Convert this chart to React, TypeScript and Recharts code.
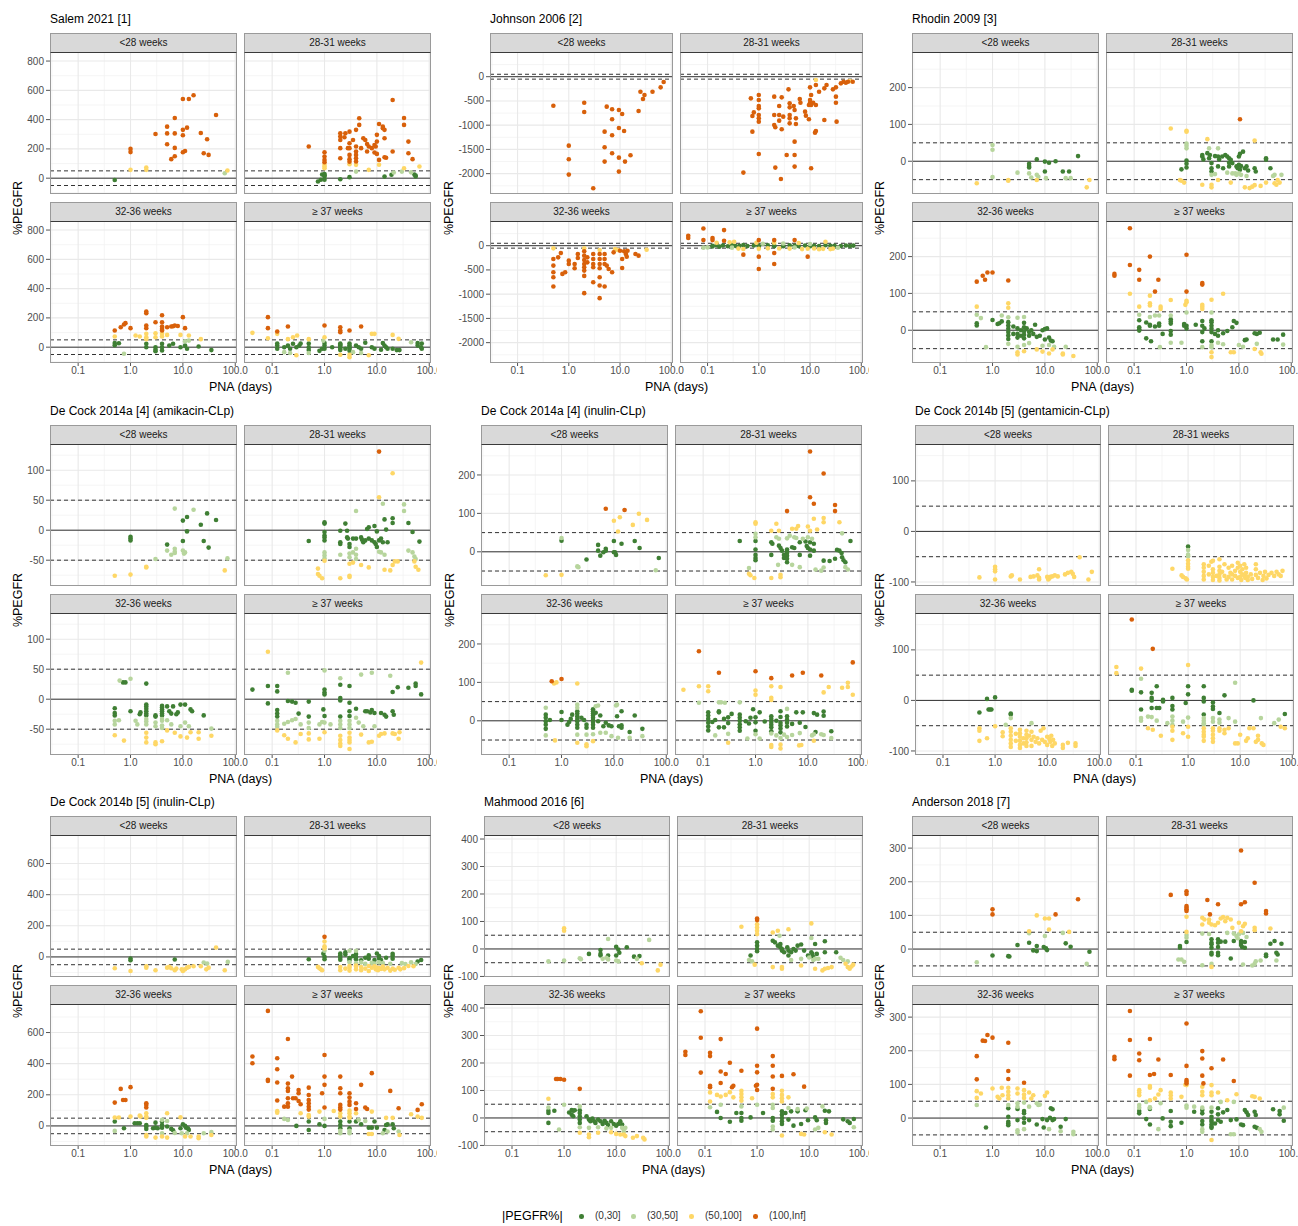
import React from "react";
import { ScatterChart, Scatter, XAxis, YAxis, CartesianGrid, ReferenceLine } from "recharts";

type Pt = [number, number];

const FONT = '"Liberation Sans", Arial, Helvetica, sans-serif';

const FACET_LABELS = ["<28 weeks", "28-31 weeks", "32-36 weeks", "\u2265 37 weeks"];
const X_TICKS = [0.1, 1, 10, 100];
const X_MINOR = [0.0316, 0.316, 3.16, 31.6];
const X_DOMAIN: [number, number] = [0.029, 108];
const CLASS_LABELS = ["(0,30]", "(30,50]", "(50,100]", "(100,Inf]"];
const CLASS_COLORS = ["#3f7f34", "#b7d59d", "#fed766", "#d8600a"];

// ---- Salem 2021 [1]
const salemLt28: Pt[] = [[0.5,-12],[1,200],[1,178],[1,57],[2,73],[2,57],[3,302],[5,352],[5,306],[5,232],[6,130],[7,411],[7,306],[7,207],[7,150],[10,541],[10,293],[10,330],[10,177],[11,186],[12,345],[13,541],[16,566],[22,309],[25,170],[29,266],[31,159],[43,432],[63,34],[71,53]];
const salem28to31: Pt[] = [[0.5,216],[0.75,-23],[0.85,-11],[0.9,25],[1,28],[1,20],[1,10],[1,-11],[1,91],[1,80],[1,68],[1,177],[1,148],[1,125],[1,109],[2,-7],[2,307],[2,284],[2,261],[2,205],[2,136],[2.4,280],[2.5,307],[2.8,205],[3,318],[3,239],[3,205],[3,159],[3,130],[3,112],[3,7],[3,95],[3.5,261],[4,330],[4,216],[4,182],[4,159],[4,136],[4,114],[4,91],[4,45],[4.6,409],[4.6,364],[5,205],[5.5,273],[6,261],[6.5,234],[6.5,182],[7,216],[7,57],[8,205],[9,227],[9.5,216],[10,250],[9,175],[10,166],[10,296],[11,370],[11,92],[11,125],[13,352],[13,341],[14,330],[14,273],[14,143],[15,140],[14,11],[20,534],[20,182],[19,23],[21,39],[33,411],[33,364],[40,250],[40,170],[48,130],[33,68],[30,45],[52,25],[55,18],[55,12],[65,80],[45,40]];
const salem32to36: Pt[] = [[0.5,114],[0.5,73],[0.5,28],[0.5,14],[0.6,27],[0.75,-45],[0.65,136],[0.75,155],[0.8,164],[1,130],[1.25,80],[1.5,73],[2,91],[2,68],[2,55],[2,243],[2,232],[2,148],[2,130],[2,23],[2,0],[3,170],[3,95],[3,68],[3,0],[3,-18],[3,-27],[4,218],[4,170],[4,141],[4,125],[4,114],[4,91],[4,73],[4,23],[4,0],[4,-23],[5,136],[6,141],[6.5,143],[7,148],[8,145],[5,84],[5.5,11],[6.5,23],[10,205],[11,130],[9,84],[9,0],[11,11],[12,-11],[11,41],[13,45],[13,80],[22,55],[20,5],[35,-20]];
const salemGe37: Pt[] = [[0.042,98],[0.083,205],[0.083,130],[0.083,61],[0.125,107],[0.125,25],[0.125,11],[0.125,-11],[0.125,91],[0.2,141],[0.17,0],[0.2,11],[0.22,-11],[0.25,23],[0.29,0],[0.33,11],[0.35,25],[0.17,-34],[0.22,-40],[0.2,55],[0.25,68],[0.3,80],[0.29,-55],[0.5,0],[0.5,25],[0.5,-20],[0.5,55],[0.5,-40],[0.8,-25],[0.9,-11],[1,28],[1,11],[1,-11],[1,148],[1,68],[0.95,45],[1.4,0],[2,136],[2,114],[2,102],[2,25],[2,18],[2,11],[2,0],[2,-11],[2,-20],[2,-52],[2.5,-11],[3,114],[3,25],[3,11],[3,0],[3,-11],[3,-25],[3,-68],[3,-52],[3.5,-34],[4,11],[4.5,0],[5,-11],[5,141],[6,30],[5,-40],[7,-55],[8,0],[9,-11],[12,-18],[8,91],[9,91],[13,28],[14,11],[15,0],[16,-11],[20,84],[26,57],[20,-11],[24,-20],[27,-20],[45,34],[60,28],[60,11],[70,0],[72,25],[72,-11]];

// ---- Johnson 2006 [2]
const johnsonLt28: Pt[] = [[0.5,-598],[1,-1422],[1,-1704],[1,-2020],[2,-536],[2,-728],[3,-2301],[5,-1134],[5,-1456],[5,-1752],[5.5,-618],[7,-673],[7,-879],[7,-1209],[7,-1580],[9.5,-687],[11,-769],[9.5,-1058],[12,-1120],[9.5,-1670],[9.5,-1958],[12.5,-1752],[16,-1621],[23,-708],[25,-309],[28,-460],[30,-378],[43,-309],[62,-220],[71,-110]];
const johnson28to31: Pt[] = [[0.5,-1979],[0.7,-447],[0.75,-811],[0.8,-736],[0.75,-1134],[1,-378],[1,-481],[1,-605],[1,-653],[1,-790],[1,-859],[1,-927],[1,-1594],[2,-412],[2,-790],[2,-996],[2.1,-1044],[2.1,-1875],[2.5,-605],[2.5,-790],[2.5,-907],[2.8,-1085],[2.7,-2109],[2.8,-426],[3,-824],[3.8,-261],[4,-550],[4,-632],[4,-790],[4,-859],[4,-962],[3.5,-1614],[4.8,-605],[5,-687],[5,-1340],[5,-1614],[5,-1855],[5.3,-859],[5.3,-975],[6.3,-460],[6.5,-536],[8,-721],[9.5,-584],[10,-536],[10,-481],[8.3,-804],[9.5,-879],[10,-220],[10.5,-378],[10.5,-584],[10.5,-1889],[11.5,-536],[13,-584],[12.5,-1154],[13,-1120],[13,-172],[15,-309],[19,-240],[21,-172],[19,-893],[28,-261],[32,-220],[32,-412],[32,-536],[33,-927],[40,-137],[45,-103],[50,-124],[55,-103],[60,-89],[68,-103],[13,-69]];
const johnson32to36: Pt[] = [[0.5,-55],[0.5,-274],[0.5,-411],[0.5,-548],[0.5,-651],[0.5,-843],[0.62,-240],[0.7,-151],[0.75,-582],[0.85,-548],[1,-308],[1,-377],[1.3,-377],[1.3,-466],[1.5,-171],[1.5,-253],[2,-55],[2,-116],[2,-205],[2,-295],[2,-377],[2,-445],[2,-514],[2,-623],[2,-979],[2.3,-240],[2.3,-343],[3,-171],[3,-274],[3,-377],[3,-445],[3,-753],[4,-89],[4,-171],[4,-274],[4,-377],[4,-466],[4,-651],[4,-822],[4,-1082],[5,-171],[5,-274],[5,-377],[5,-843],[5.5,-411],[6,-480],[7,-548],[7.5,-137],[9,-89],[8,-68],[11,-274],[11,-459],[12,-116],[13,-171],[13.5,-226],[14,-103],[20,-171],[23,-205],[33,-82],[10,-103]];
const johnsonGe37: Pt[] = [[0.042,205],[0.042,158],[0.083,356],[0.083,116],[0.083,-40],[0.125,158],[0.125,116],[0.21,322],[0.21,103],[0.125,0],[0.125,-15],[0.15,10],[0.17,-20],[0.2,5],[0.25,-10],[0.3,15],[0.35,-5],[0.42,0],[0.5,12],[0.6,-8],[0.8,5],[1,0],[1,-15],[1.5,8],[2,-10],[2,5],[3,0],[3,-12],[4,10],[5,0],[6,-8],[8,4],[10,-10],[12,0],[15,-5],[20,8],[25,-3],[30,0],[40,-6],[50,3],[60,-5],[70,2],[0.15,62],[0.27,70],[0.33,80],[0.4,-60],[0.5,-68],[0.9,60],[1,-65],[1.5,-55],[2,62],[2.5,-58],[4,-60],[6,55],[7,-70],[9,-62],[12,-58],[15,-72],[18,-65],[20,80],[25,-70],[28,-60],[0.5,-185],[1,116],[1,-226],[1,-480],[2,116],[2,-151],[2,-377],[5,116],[9,-226],[0.1,-35],[0.3,-40],[1.2,40],[3,45],[5,-38],[10,35],[35,-42]];

// ---- Rhodin 2009 [3]
const rhodinLt28: Pt[] = [[0.5,-60],[1,44],[1,31],[1,-43],[2,-51],[2,-53],[3,-31],[5,-7],[5,-13],[5,-17],[5,-33],[5.5,-44],[7,5],[7,-37],[7.5,-42],[7,-51],[10,-1],[10,-28],[10.5,-46],[12,-4],[16,0],[22,-28],[29,-28],[25,-46],[31,-46],[43,14],[63,-71],[71,-51]];
const rhodin28to31: Pt[] = [[0.5,89],[1,83],[1,80],[1,48],[1,42],[1,35],[1,2],[1,-7],[1,-17],[0.8,-22],[0.75,-51],[0.8,-53],[0.9,-58],[2.5,60],[2,17],[2,13],[2.1,5],[2.5,22],[2.7,8],[2.8,17],[3,-5],[3,-19],[3,-28],[2.7,35],[3,-37],[3.5,-35],[2,-64],[3,-64],[3,-71],[3.5,14],[4,13],[4.2,5],[4.8,13],[5.5,17],[6,13],[6.5,8],[6.5,-4],[7,4],[7.5,-5],[4,35],[4,-51],[7,-58],[4,-14],[5,-19],[6.5,-14],[6,-31],[7.5,-33],[8.5,-33],[9,-37],[9,-14],[9.5,-19],[10,-10],[10.5,-23],[11,-13],[12,26],[13,-19],[14,-14],[15,-25],[20,-19],[21,-28],[10,13],[10.5,20],[10.5,114],[10,-33],[11,-37],[14,-40],[13,-71],[16,-73],[18,-69],[20,-65],[26,-67],[20,56],[33,8],[33,4],[40,-19],[45,-40],[48,-37],[65,-37],[33,-58],[48,-60],[52,-64],[55,-51],[60,-58]];
const rhodin32to36: Pt[] = [[0.5,132],[0.65,148],[0.72,137],[0.8,157],[1,157],[2,135],[0.5,64],[0.5,42],[0.5,19],[0.5,13],[0.6,33],[0.75,-46],[1,28],[1.25,17],[1.35,19],[1.5,24],[1.5,40],[2,61],[2,73],[2,35],[2,-37],[2,22],[2,13],[2,4],[2,-5],[2,-14],[2,-24],[2.5,10],[2.5,-10],[3,5],[3,-10],[3,-20],[3.5,0],[3.5,-15],[4,20],[4,8],[4,-3],[4,-12],[4,-22],[4.5,5],[5,-5],[5,-15],[5.5,0],[6,-10],[6.5,15],[7,-18],[8,-15],[9,0],[10,3],[11,5],[12,-20],[13,-28],[14,-30],[10,-25],[3,34],[4,36],[4,-40],[5,-35],[3,-45],[9,-42],[12,-40],[15,-45],[25,-45],[3,-60],[3,-66],[4,-57],[7,-52],[9,-58],[12,-63],[14,-52],[22,-63],[22,-66],[35,-70]];
const rhodinGe37: Pt[] = [[0.042,153],[0.042,148],[0.083,277],[0.083,177],[0.125,164],[0.125,137],[0.2,200],[0.25,105],[0.29,137],[1,205],[1,105],[2,128],[2,124],[0.083,99],[0.125,64],[0.2,94],[0.2,73],[0.2,67],[0.32,64],[0.32,58],[0.5,82],[0.95,69],[1,80],[1,76],[2,69],[2,64],[2,58],[3,83],[5,99],[3,-60],[3,-73],[7,-60],[8,-60],[20,-51],[26,-60],[27,-64],[0.125,42],[0.2,36],[0.25,40],[0.3,40],[0.5,40],[0.5,-34],[0.8,-34],[1,48],[2,-46],[3,-40],[3,-46],[3,48],[4,-34],[5,-38],[10,-40],[12,-45],[22,-37],[70,-39],[0.21,-30],[0.31,-46],[0.125,27],[0.125,8],[0.125,3],[0.125,-1],[0.17,21],[0.2,15],[0.2,12],[0.25,10],[0.3,18],[0.3,12],[0.35,-10],[0.5,30],[0.5,24],[0.5,18],[0.5,-2],[0.5,-12],[0.17,-22],[0.9,17],[0.9,12],[1,12],[1,5],[1.5,15],[2,25],[2,12],[2,-5],[2,-30],[2.2,5],[3,27],[3,22],[3,12],[3,4],[3,-5],[3,-30],[3.5,-10],[4,-15],[4,0],[5,-8],[6,-2],[7.5,8],[8,25],[9,20],[13,-27],[14,-25],[20,-8],[22,-10],[25,-7],[45,-25],[55,-25],[70,-12]];

// ---- De Cock 2014a [4] (amikacin-CLp)
const amikLt28: Pt[] = [[0.5,-76],[1,-74],[1,-11],[1,-14],[1,-17],[2,-62],[2,-61],[3,-48],[5,-24],[5,-34],[6,-41],[7,-31],[7,-36],[7,-38],[7,36],[10,16],[10,-18],[10,-34],[10.5,-39],[11,-37],[12,22],[12,-2],[16,34],[22,9],[25,-18],[29,28],[31,-29],[43,17],[63,-67],[71,-47]];
const amik28to31: Pt[] = [[11,131],[20,95],[11,55],[13,44],[33,43],[33,32],[4,32],[0.5,-18],[1,13],[1,11],[1,-3],[1,-9],[1,-12],[1,-17],[1,-37],[1,-42],[1,-47],[1,-51],[0.75,-64],[0.75,-73],[0.8,-76],[0.9,-80],[2,-1],[2,-20],[2,-23],[2.5,11],[2.7,-1],[2.7,-12],[2.8,-14],[3,-28],[3,-23],[2,-41],[3,-39],[3,-45],[3.5,-37],[4,-31],[4,-41],[4,-48],[2,-80],[3,-56],[3,-76],[3,-78],[3.5,-54],[5,-58],[7,-62],[3.5,-14],[4,-14],[5,-12],[5.2,-16],[5.5,-20],[6,-17],[6.5,2],[7,5],[7,-14],[8,-17],[9,-20],[9.5,-23],[10,-28],[9,7],[10,-2],[11,-17],[12,-14],[13,-20],[14,18],[15,1],[16,-20],[11,-36],[12,-37],[14,-41],[14,-66],[20,-58],[18,-67],[22,-52],[25,-52],[20,20],[20,12],[40,12],[48,-3],[65,-19],[40,-34],[48,-37],[52,-44],[55,-48],[52,-52],[55,-61],[62,-66]];
const amik32to36: Pt[] = [[0.62,31],[0.72,28],[0.8,28],[1,34],[2,26],[0.5,-15],[0.5,-23],[0.5,-27],[0.5,-36],[0.5,-42],[0.5,-60],[0.6,-35],[0.75,-69],[1,-20],[1.25,-36],[1.35,-42],[1.5,-25],[1.55,-22],[2,-9],[2,-12],[2,-16],[2,-20],[2,-24],[2,-27],[2,-33],[2,-37],[2,-42],[2,-56],[2,-64],[2,-72],[3,-27],[3,-29],[3,-39],[3,-45],[3,-72],[3,-75],[4,-11],[4,-14],[4,-17],[4,-20],[4,-24],[4,-27],[4,-33],[4,-36],[4,-44],[4,-48],[4,-70],[5,-12],[5.5,-20],[6,-24],[6.5,-12],[5,-35],[6,-42],[5,-52],[7,-56],[7.5,-25],[8,-22],[9,-45],[9,-62],[9,-9],[11,-9],[11,-39],[13,-45],[12,-64],[14,-55],[14,-17],[15,-20],[25,-27],[20,-55],[20,-66],[35,-61],[35,-49]];
const amikGe37: Pt[] = [[0.083,79],[0.042,16],[0.083,22],[0.083,-7],[0.2,44],[0.125,22],[0.125,13],[0.125,-18],[0.125,-24],[0.125,-29],[0.125,-36],[0.125,-42],[0.125,-46],[0.125,-52],[0.17,-41],[0.2,-38],[0.24,-35],[0.28,-33],[0.2,-3],[0.24,-4],[0.28,-6],[0.32,-24],[0.5,-4],[0.17,-60],[0.2,-66],[0.28,-72],[0.35,-58],[0.5,-57],[0.5,-67],[0.8,-66],[0.35,-42],[0.5,-39],[0.5,-48],[0.5,-29],[0.8,-42],[0.9,-38],[0.95,-17],[1,-28],[1,16],[1,11],[1,8],[1,48],[1,-55],[1,-39],[1.3,-42],[2,24],[2,2],[2,-2],[2,-29],[2,35],[2,-36],[2,-42],[2,-48],[2,-61],[2,-68],[2,-74],[2,-78],[3,22],[3,-6],[3,-20],[3,-28],[3,-36],[3,-42],[3,-48],[3,-56],[3,-64],[3,-68],[3,-72],[3,-83],[4,-31],[4.5,-39],[5,41],[5.5,-45],[4,-16],[6,-20],[6.5,-20],[7.5,-22],[8,-18],[9,-23],[8,44],[5,-59],[7,-72],[8,-71],[9,-45],[11,-61],[12,-58],[14,-57],[12,-23],[14,-26],[15,-29],[18,39],[20,12],[20,-20],[21,-26],[25,20],[20,-57],[22,-58],[26,-66],[27,-55],[40,19],[55,26],[55,22],[70,8],[70,61]];

// ---- De Cock 2014a [4] (inulin-CLp)
const inulALt28: Pt[] = [[0.5,-61],[1,-60],[1,36],[1,29],[2,-38],[2.1,-40],[3,-20],[5,18],[5,3],[5.5,-10],[6.3,-1],[7,8],[7,3],[7,112],[10,28],[10,-1],[11,-8],[10.5,-1],[10,81],[13,90],[12,53],[16,109],[14,21],[23,70],[30,99],[25,28],[31,10],[43,83],[63,-48],[72,-16]];
const inulA28to31: Pt[] = [[0.5,28],[1,77],[1,73],[1,47],[1,38],[1,28],[1,6],[1,-8],[1,-16],[1,-22],[0.75,-42],[0.75,-57],[0.8,-61],[0.95,-68],[2,55],[2,-68],[2,25],[2.1,21],[2,-8],[2.5,38],[2.8,34],[2.7,-34],[2.5,73],[2.8,55],[3,-60],[3,-66],[2.8,16],[3,10],[3.2,3],[3.5,-8],[3.5,-16],[4,6],[4,1],[4,-3],[4,-10],[4,-18],[4,-27],[4,106],[4,35],[4.5,42],[5,60],[6.5,67],[6,60],[5,-34],[5.5,38],[6,36],[7,-40],[5,12],[5.5,10],[7,-8],[7,25],[8,34],[9,27],[9.5,15],[10,10],[11,25],[11,6],[11,-10],[13,21],[13,3],[11,261],[11,142],[13,125],[10,66],[11,55],[10,38],[12,34],[13,86],[15,58],[14,-46],[18,-49],[20,-41],[20,-23],[26,-24],[20,204],[20,88],[20,77],[33,122],[33,106],[40,77],[33,-18],[36,5],[40,3],[44,-3],[45,-14],[48,-22],[52,-27],[45,48],[52,-40],[58,-46],[65,28]];
const inulA32to36: Pt[] = [[0.65,103],[0.8,100],[1,109],[0.72,97],[2,97],[0.5,16],[0.5,8],[0.5,-1],[0.5,-10],[0.5,-21],[0.5,34],[0.5,-38],[0.6,2],[0.75,-51],[1,23],[1,2],[1.3,-10],[1.4,-3],[1.5,5],[1.6,16],[2,42],[2,34],[2,-36],[2,-57],[2,25],[2,19],[2,12],[2,5],[2,-1],[2,-10],[2,-18],[2.4,8],[2.7,2],[3,-10],[3,-18],[3,-36],[3,-61],[3,-66],[4,30],[4,25],[4,19],[4,14],[4,8],[4,2],[4,-3],[4,-10],[4,-18],[4,-35],[4.5,38],[5,40],[5.5,-31],[4,-53],[4.5,21],[5,-1],[5.5,14],[6.3,-14],[7,-5],[8,-12],[7,-31],[9,-40],[11,40],[12,-44],[11.5,42],[9,-14],[11.5,12],[12.5,-14],[14,25],[14,-12],[14,-18],[20,-29],[25,14],[35,-21],[20,-44],[35,-40]];
const inulAGe37: Pt[] = [[0.083,181],[0.042,81],[0.083,90],[0.125,90],[0.125,77],[0.083,47],[0.2,125],[1,129],[2,111],[5,118],[8,125],[18,118],[72,152],[1,79],[1,68],[2,90],[2,60],[2,54],[3,88],[20,74],[25,88],[45,86],[58,99],[58,88],[72,68],[0.2,48],[0.22,48],[0.26,47],[0.5,48],[4,31],[0.125,22],[0.125,14],[0.125,5],[0.125,-5],[0.125,-15],[0.125,-25],[0.15,-3],[0.17,2],[0.2,25],[0.2,22],[0.2,-17],[0.25,5],[0.25,-17],[0.3,9],[0.3,-6],[0.35,18],[0.5,16],[0.5,8],[0.5,0],[0.5,-9],[0.5,-17],[0.5,-26],[0.65,-1],[0.75,-7],[0.8,8],[0.9,30],[1,9],[1,-4],[1,-26],[1.2,22],[1.5,-2],[2,12],[2,5],[2,-3],[2,-10],[2,-17],[2,-27],[2.5,0],[3,25],[3,10],[3,-5],[3,-12],[3,-20],[3,-30],[4,12],[4,3],[4,-5],[4,-15],[5,-8],[6,22],[7,-5],[8,22],[9,-16],[13,20],[14,-29],[15,16],[20,24],[20,13],[28,-27],[0.17,-38],[0.3,-34],[0.7,-46],[1,-35],[1.2,-46],[2,-33],[2.5,-38],[3,-45],[3.5,-36],[4,-42],[5,-37],[7,-32],[12,-38],[13,-35],[18,-35],[20,-37],[28,-45],[0.3,-57],[2,-63],[2,-68],[3,-62],[3,-72],[6.8,-64],[7.5,-63],[13,-52]];

// ---- De Cock 2014b [5] (gentamicin-CLp)
const gentLt28: Pt[] = [[0.5,-91],[1,-70],[1,-75],[1,-79],[1,-95],[2,-89],[2.1,-87],[3,-95],[4.8,-90],[5.5,-89],[6.5,-87],[7,-75],[7,-92],[7,-95],[10,-90],[10.5,-95],[11,-93],[11.5,-90],[12.5,-89],[14,-87],[16,-89],[22,-85],[25,-82],[29,-80],[31,-84],[33,-90],[42,-51],[62,-95],[72,-80]];
const gent28to31: Pt[] = [[1,-30],[1,-37],[1,-46],[1,-49],[1,-57],[1,-64],[1,-70],[1,-74],[0.5,-74],[0.75,-87],[0.8,-90],[0.9,-93],[0.95,-95],[2,-65],[2,-72],[2,-80],[2,-88],[2,-95],[2.5,-68],[2.5,-85],[2.8,-60],[3,-58],[3,-75],[3,-82],[3,-90],[3,-96],[3.5,-88],[4,-55],[4,-70],[4,-78],[4,-85],[4,-92],[4,-97],[4.5,-80],[5,-65],[5,-88],[5.5,-95],[6,-72],[6,-90],[6.5,-82],[7,-68],[7,-85],[7,-95],[8,-78],[8,-88],[9,-62],[9,-72],[9,-92],[10,-68],[10,-80],[10,-90],[10.5,-96],[11,-75],[11,-85],[12,-65],[12,-88],[12.5,-92],[13,-72],[13,-82],[14,-90],[14,-96],[16,-85],[17,-94],[20,-65],[20,-75],[20,-86],[22,-92],[24,-82],[27,-96],[28,-88],[30,-80],[32,-93],[35,-86],[40,-82],[45,-88],[50,-80],[55,-85],[60,-88],[65,-78]];
const gent32to36: Pt[] = [[0.5,-24],[0.7,3],[1,6],[0.75,-18],[0.8,-18],[0.85,-18],[2,-26],[2,-28],[2,-35],[1.6,-48],[0.5,-55],[0.5,-60],[0.5,-80],[0.7,-75],[1,-51],[1.4,-63],[1.4,-71],[5,-45],[2,-55],[2,-62],[2,-70],[2,-78],[2,-85],[2,-92],[2.5,-66],[2.5,-80],[3,-58],[3,-65],[3,-72],[3,-80],[3,-88],[3,-94],[3.5,-75],[3.5,-85],[4,-60],[4,-68],[4,-75],[4,-83],[4,-90],[4.5,-70],[5,-62],[5,-78],[5,-90],[5.5,-72],[6,-82],[6.5,-75],[7,-85],[7.5,-60],[8,-78],[8.5,-55],[9,-82],[10,-72],[10,-88],[11,-76],[11.5,-82],[12,-70],[12.5,-90],[13,-78],[14,-85],[20,-94],[20,-88],[25,-84],[35,-85],[35,-90]];
const gentGe37: Pt[] = [[0.083,160],[0.21,102],[0.042,66],[0.042,54],[0.125,63],[1,70],[0.125,43],[8,35],[0.083,21],[0.083,19],[0.125,16],[0.25,28],[0.2,15],[0.2,5],[0.2,0],[0.125,-18],[0.2,-15],[0.25,-15],[0.28,-15],[0.33,1],[0.33,-2],[0.5,5],[0.5,-11],[0.5,-18],[0.9,-5],[1,28],[1,12],[2,28],[2,5],[2,-2],[2,-28],[3,-4],[3,-12],[3,-17],[4,-25],[5,10],[18,0],[72,-27],[0.125,-35],[0.125,-40],[0.17,-32],[0.2,-33],[0.25,-40],[0.4,-45],[0.5,-32],[0.5,-40],[0.5,-48],[0.8,-42],[1,-34],[2,-35],[2,-40],[2,-45],[2,-48],[3,-35],[3,-42],[4,-38],[4,-44],[6,-35],[8,-42],[25,-35],[45,-45],[55,-38],[0.17,-55],[0.21,-58],[0.3,-70],[0.5,-52],[0.5,-60],[0.5,-78],[0.8,-65],[1,-52],[1,-72],[2,-55],[2,-62],[2,-68],[2,-72],[2,-80],[3,-55],[3,-60],[3,-68],[3,-75],[3,-82],[4,-55],[4,-60],[5,-58],[5,-65],[6,-55],[8,-85],[9,-85],[10,-68],[13,-80],[14,-75],[15,-55],[18,-55],[20,-82],[22,-70],[22,-78],[26,-85],[28,-88],[60,-52],[72,-55]];

// ---- De Cock 2014b [5] (inulin-CLp)
const inulBLt28: Pt[] = [[0.5,-73],[1,-90],[1,-10],[1,-21],[2,-69],[2,-60],[3,-86],[5,-69],[5.5,-64],[6,-73],[7,-17],[7,-86],[7.5,-75],[9.5,-80],[10,-90],[11,-80],[12,-69],[13,-64],[16,-60],[22,-60],[28,-80],[31,-69],[25,-36],[29,-43],[43,60],[63,-86],[72,-32]];
const inulB28to31: Pt[] = [[1,129],[1,99],[1,68],[1,55],[1,40],[1,0],[1,-15],[0.95,21],[0.5,-15],[0.75,-64],[0.8,-73],[0.85,-79],[0.9,-86],[2,22],[2,10],[2,-5],[2,-18],[2.5,15],[3,-8],[3,-20],[3.5,5],[4,18],[4,0],[4,-15],[5,-22],[6,-5],[7,10],[7,-12],[9,-20],[10,22],[11,5],[11,-10],[12,-20],[15,-5],[20,20],[20,8],[20,-12],[70,-20],[2.5,30],[3,-35],[3,40],[4,40],[4,-40],[5,-35],[6,-44],[8,-38],[9,-42],[11,-35],[13,-40],[18,-44],[30,-40],[35,-45],[45,-35],[55,-45],[60,-30],[2,-65],[2,-85],[2.5,-75],[3,-58],[3,-70],[3,-88],[4,-55],[4,-62],[4,-80],[5,-65],[5,-85],[6,-75],[7,-58],[7,-90],[8,-70],[9,-60],[9.5,-80],[10,-68],[10.5,-85],[11,-72],[12,-78],[13,-62],[14,-80],[16,-70],[18,-88],[20,-75],[22,-82],[26,-70],[28,-80],[33,-72],[40,-58],[50,-60]];
const inulB32to36: Pt[] = [[0.5,150],[0.65,238],[0.72,167],[0.8,167],[1,249],[2,146],[2,135],[2,118],[0.5,54],[0.6,54],[1,60],[1.5,66],[1.55,60],[2,81],[2,60],[2,52],[0.5,-32],[0.5,28],[0.75,-15],[1.2,17],[1.35,17],[1.5,17],[2,6],[2,-4],[2,-19],[2,-58],[2,-68],[2.7,-15],[3,21],[3,-11],[3.3,-15],[3,-75],[4,28],[4,6],[4,-11],[4,39],[5,32],[4,-47],[4,-68],[5,81],[5,-75],[5,-4],[6,-19],[6.5,-28],[7,-45],[9,55],[9,-15],[10,11],[11,0],[11.5,-11],[12.5,-15],[13,-26],[9.5,-47],[12,-47],[11,-68],[14,-68],[20,-68],[20,-79],[25,-47],[35,-40],[35,-58]];
const inulBGe37: Pt[] = [[0.042,446],[0.042,403],[0.083,739],[0.083,296],[0.083,289],[0.125,435],[0.125,364],[0.125,279],[0.125,163],[0.125,95],[0.125,85],[0.2,559],[0.2,272],[0.2,242],[0.2,225],[0.2,178],[0.2,146],[0.2,124],[0.24,317],[0.25,178],[0.28,178],[0.32,160],[0.32,231],[0.32,210],[0.35,139],[0.5,246],[0.5,199],[0.5,167],[0.5,146],[0.5,124],[0.5,105],[0.17,45],[0.2,38],[0.17,124],[0.35,81],[0.5,70],[0.5,60],[0.29,0],[0.5,28],[0.5,-26],[0.8,11],[1,0],[0.9,210],[1,456],[1,317],[1,264],[1,118],[0.8,92],[1,45],[1.5,96],[2,317],[2,242],[2,210],[2,135],[2,118],[2,105],[2,81],[2,60],[2,28],[2,6],[2,-15],[2,-32],[2,-47],[3,210],[3,182],[3,156],[3,135],[3,98],[3,81],[3,60],[3,52],[3,28],[3,-15],[3,-32],[3,-47],[4,146],[4,109],[4,81],[4,28],[5,11],[4.5,39],[6,32],[5,264],[6,118],[6.5,109],[8,339],[8,92],[9,28],[7,-11],[8,-11],[7,-52],[8,-52],[10,-11],[14,-26],[15,6],[16,11],[13,-47],[16,-36],[18,225],[15,52],[20,52],[20,11],[21,-15],[26,-36],[27,-58],[26,114],[45,75],[60,60],[72,52],[60,103],[72,139]];

// ---- Mahmood 2016 [6]
const mahLt28: Pt[] = [[0.5,-45],[1,-42],[1,75],[1,66],[2,-34],[2.1,-37],[3,-18],[5,-4],[5,-18],[5,-24],[5.5,-36],[6.5,-32],[7,-38],[7,36],[7,-24],[10,-42],[11,-45],[10,8],[10,-24],[11,-2],[11.5,-14],[16,6],[22,-28],[28,-26],[25,-36],[31,-52],[43,33],[63,-78],[71,-57]];
const mah28to31: Pt[] = [[1,111],[1,105],[1,90],[1,78],[1,66],[1,54],[1,24],[1,12],[1,0],[1,-8],[0.5,81],[0.7,-40],[0.8,-45],[0.75,-24],[0.9,-57],[2,60],[2.5,66],[4,72],[2,-66],[3,-66],[3,-72],[2,30],[2.2,24],[2.5,12],[2.8,18],[2.8,6],[3,-6],[3,0],[3.3,-12],[3.8,6],[4,-6],[4,-24],[4.5,-12],[5,0],[5.5,-6],[6,12],[7,16],[2.7,48],[4.5,-40],[7,-36],[7,-60],[8,-6],[9.5,-24],[11,-12],[11.5,-18],[12,-29],[13,18],[14,-18],[20,28],[20,-12],[11,93],[11,40],[10,-31],[12,-40],[13,-36],[15,-36],[13,-72],[18,-78],[20,-72],[23,-69],[27,-66],[33,-12],[40,-32],[45,-40],[55,-45],[50,-54],[55,-66],[60,-72],[65,-64],[70,-57]];
const mah32to36: Pt[] = [[0.7,142],[0.75,142],[0.85,142],[1,139],[2,106],[0.5,70],[1,48],[0.8,-42],[0.5,38],[0.5,26],[0.5,18],[0.5,-18],[0.65,26],[1.25,20],[1.4,29],[1.5,26],[1.6,28],[1.4,12],[1.5,6],[2,28],[2,18],[2,6],[2,-6],[2,-18],[2,42],[2,-34],[2,-54],[2.7,6],[3,-6],[3.2,-12],[3.5,-2],[3.8,-12],[4,-18],[4.5,-6],[5,-12],[5.5,-22],[6,-10],[6.5,-18],[7,-26],[8,-12],[9,-22],[10,-28],[11,-22],[12,-12],[13,-24],[3,-36],[4.5,-34],[6.5,-38],[8,-36],[13,-36],[15,-36],[14,-48],[3,-60],[3,-70],[4.5,-54],[8,-52],[10,-58],[12,-60],[14,-60],[15,-66],[21,-72],[25,-66],[33,-72],[35,-78]];
const mahGe37: Pt[] = [[0.042,241],[0.042,229],[0.083,388],[0.083,292],[0.083,165],[0.125,237],[0.125,225],[0.125,117],[0.125,112],[0.2,287],[0.2,169],[0.2,127],[0.25,160],[0.3,201],[0.33,112],[0.35,117],[0.5,172],[1,325],[1,190],[1,166],[0.95,117],[1,121],[1,102],[2,225],[2,190],[2,151],[2,106],[3,153],[5,159],[8,114],[0.125,93],[0.125,60],[0.17,84],[0.2,78],[0.25,84],[0.3,94],[0.35,75],[0.5,99],[0.5,87],[0.5,75],[0.5,63],[0.8,72],[2,87],[2,75],[3,99],[3,84],[3,72],[3,60],[4,75],[0.125,39],[0.2,48],[0.5,42],[1,48],[2,48],[2,36],[4,36],[6,32],[9,34],[13,-42],[15,-36],[18,42],[72,-34],[2,-31],[2,-42],[0.17,22],[0.2,0],[0.3,-14],[0.4,18],[0.5,18],[0.5,0],[0.5,-10],[0.75,2],[1.3,18],[2,0],[2,-10],[3,24],[3,12],[3,0],[3,-12],[3,-22],[3.5,18],[4,-6],[4.5,24],[5,-28],[6,24],[7,-22],[8.5,28],[9.5,-8],[13,2],[14,-8],[20,26],[21,-8],[21,-18],[24,24],[45,-5],[55,-12],[60,-18],[72,-4],[3,-64],[7,-58],[8,-60],[20,-52],[27,-60]];

// ---- Anderson 2018 [7]
const andLt28: Pt[] = [[0.5,-39],[1,118],[1,103],[1,-19],[2,-21],[2.1,-22],[3,12],[5,53],[5,47],[5,19],[6,-4],[7,9],[7,-6],[9.5,6],[10.5,2],[11,-3],[7,100],[10,91],[12,91],[16,103],[12,58],[10,39],[25,17],[31,7],[22,48],[29,51],[43,148],[63,-44],[71,-8]];
const and28to31: Pt[] = [[0.5,161],[1,172],[1,164],[1,128],[1,123],[1,118],[1,113],[1,96],[1,42],[1,34],[1,51],[1,21],[0.75,9],[0.75,4],[0.7,-31],[0.8,-31],[0.9,-38],[2.5,146],[2.8,103],[4,133],[2,93],[2,73],[2.2,88],[2.7,88],[2.7,78],[3,73],[3.5,71],[4,78],[4.5,91],[5,95],[5.5,83],[6,93],[7,88],[7.5,63],[2,46],[2.7,45],[6,48],[8,46],[9,39],[9.5,32],[10,44],[12,48],[14,36],[10,78],[11,53],[12,68],[13,75],[3,29],[3,19],[3,14],[3,4],[3,-11],[3,-16],[4,29],[4,19],[4,6],[4,-11],[4,-18],[4.5,22],[5.5,22],[7,-28],[8,24],[2,-48],[3,-44],[3,-53],[11,293],[11,133],[13,139],[20,197],[11,24],[11,18],[11,12],[11.5,6],[13,4],[13,21],[12,-46],[18,-49],[20,-44],[21,-36],[20,63],[20,56],[33,113],[33,106],[40,61],[33,-16],[33,-21],[40,16],[48,24],[52,-11],[55,-16],[65,16],[26,-34],[52,-34]];
const and32to36: Pt[] = [[0.5,184],[0.5,115],[0.65,230],[0.72,229],[0.8,247],[1,239],[2,224],[2,140],[2,116],[4,105],[0.5,80],[0.5,60],[0.6,73],[1,88],[1.25,63],[1.35,58],[1.5,90],[1.55,68],[2,90],[2,78],[2,68],[2,58],[3,88],[3,73],[4,83],[4,70],[4,60],[5,76],[6,68],[5.5,58],[10,66],[11,76],[0.5,39],[2,39],[3,44],[3,34],[4,46],[5,34],[7,44],[7.5,39],[8,40],[0.75,-28],[2,29],[2,4],[2,-11],[2,-16],[2,-21],[3,27],[3,-6],[4,21],[4,14],[4,-1],[4,-14],[5,-6],[7,-19],[9,-3],[9.5,-28],[11,-6],[12.5,1],[13,29],[14,26],[14,-6],[15,-3],[20,-26],[25,-3],[3,-36],[3,-43],[4,-33],[12,-33],[20,-39],[35,-41],[35,-48]];
const andGe37: Pt[] = [[0.042,182],[0.042,175],[0.083,318],[0.083,232],[0.083,126],[0.125,192],[0.125,172],[0.2,235],[0.2,128],[0.24,131],[0.29,174],[0.5,128],[1,281],[1,155],[1,113],[1,108],[1,103],[2,199],[2,177],[2,126],[2.1,103],[3,148],[5,174],[8,110],[0.125,83],[0.125,76],[0.125,68],[0.2,95],[0.2,90],[0.2,53],[0.25,58],[0.29,70],[0.32,83],[0.5,76],[0.5,68],[0.5,58],[0.8,63],[0.95,99],[1,98],[2,93],[2,78],[2,68],[3,98],[3,76],[3,68],[4,76],[6,53],[9,71],[18,65],[20,63],[25,58],[0.125,39],[0.125,31],[0.17,48],[0.2,31],[0.2,32],[0.32,44],[1,37],[1,31],[1.4,34],[2,31],[2,-33],[2,-41],[3,31],[4.5,48],[7,-48],[8,-48],[8,48],[25,-33],[27,-41],[72,31],[0.29,-33],[0.125,21],[0.125,14],[0.17,-3],[0.2,-19],[0.2,27],[0.35,-1],[0.5,21],[0.5,-11],[0.5,-24],[0.8,-14],[1.4,19],[2,24],[2,14],[2,-9],[2,-19],[3,19],[3,4],[3,-6],[3,-11],[3,-19],[3,-26],[3,-29],[3.5,-16],[4,29],[4,11],[4,-6],[4.5,-11],[5,17],[6,24],[7,-6],[9,-4],[11,-19],[12,-21],[13,24],[14,17],[15,9],[20,-26],[20,19],[21,9],[22,-29],[45,26],[60,21],[60,11],[72,-8],[3,-65]];

// per-panel titles, y scale settings and facet data
const PANEL_TITLES = [
  "Salem 2021 [1]",
  "Johnson 2006 [2]",
  "Rhodin 2009 [3]",
  "De Cock 2014a [4] (amikacin-CLp)",
  "De Cock 2014a [4] (inulin-CLp)",
  "De Cock 2014b [5] (gentamicin-CLp)",
  "De Cock 2014b [5] (inulin-CLp)",
  "Mahmood 2016 [6]",
  "Anderson 2018 [7]",
];
const Y_DOMAINS: [number, number][] = [
  [-108, 855], [-2420, 489], [-89, 294],
  [-93, 142], [-89, 278], [-108, 171],
  [-129, 777], [-102, 411], [-83, 336],
];
const Y_TICKS: number[][] = [
  [0, 200, 400, 600, 800],
  [-2000, -1500, -1000, -500, 0],
  [0, 100, 200],
  [-50, 0, 50, 100],
  [0, 100, 200],
  [-100, 0, 100],
  [0, 200, 400, 600],
  [-100, 0, 100, 200, 300, 400],
  [0, 100, 200, 300],
];
const PANEL_DATA: Pt[][][] = [
  [salemLt28, salem28to31, salem32to36, salemGe37],
  [johnsonLt28, johnson28to31, johnson32to36, johnsonGe37],
  [rhodinLt28, rhodin28to31, rhodin32to36, rhodinGe37],
  [amikLt28, amik28to31, amik32to36, amikGe37],
  [inulALt28, inulA28to31, inulA32to36, inulAGe37],
  [gentLt28, gent28to31, gent32to36, gentGe37],
  [inulBLt28, inulB28to31, inulB32to36, inulBGe37],
  [mahLt28, mah28to31, mah32to36, mahGe37],
  [andLt28, and28to31, and32to36, andGe37],
];

// layout (px): left edge of facets, strip top, facet width, y title x
const LAYOUT = [
  { left: 50, top: 33, w: 187, ylab: 18 },
  { left: 490, top: 33, w: 183, ylab: 449 },
  { left: 912, top: 33, w: 187, ylab: 880 },
  { left: 50, top: 425, w: 187, ylab: 18 },
  { left: 481, top: 425, w: 187, ylab: 450 },
  { left: 915, top: 425, w: 186, ylab: 880 },
  { left: 50, top: 816, w: 187, ylab: 18 },
  { left: 484, top: 816, w: 186, ylab: 449 },
  { left: 912, top: 816, w: 187, ylab: 880 },
];

const STRIP_H = 20;
const PLOT_H = 141;
const V_GAP = 8;
const H_GAP = 7;
const Y_AXIS_W = 45;
const X_AXIS_H = 18;
const PAD_V = 7; // room so tick labels at the panel edge are not clipped
const BORDER = "#9a9a9a";

const classOf = (v: number) => {
  const a = Math.abs(v);
  return a <= 30 ? 0 : a <= 50 ? 1 : a <= 100 ? 2 : 3;
};

function minorBreaks(ticks: number[], dom: [number, number]) {
  const step = ticks[1] - ticks[0];
  const out: number[] = [];
  for (let v = ticks[0] - step / 2; v <= ticks[ticks.length - 1] + step; v += step) {
    if (v > dom[0] && v < dom[1]) out.push(v);
  }
  return out;
}

const dotShape = (color: string) => (p: any) =>
  p.cx == null ? <g /> : <circle cx={p.cx} cy={p.cy} r={2.3} fill={color} />;

function Facet(props: {
  pts: Pt[]; yDomain: [number, number]; yTicks: number[];
  showX: boolean; showY: boolean; x: number; y: number; w: number; padR: number;
}) {
  const { pts, yDomain, yTicks, showX, showY, x, y, w, padR } = props;
  const yw = showY ? Y_AXIS_W : 0;
  const xh = showX ? X_AXIS_H : 0;
  const width = w + yw + padR;
  const height = PLOT_H + xh + 2 * PAD_V;
  const groups = CLASS_COLORS.map((_, k) =>
    pts.filter((p) => classOf(p[1]) === k).map(([px, py]) => ({ x: px, y: py }))
  );
  const yMinor = minorBreaks(yTicks, yDomain);
  const tickStyle = { fontSize: 10, fill: "#4d4d4d", fontFamily: FONT };
  return (
    <div style={{ position: "absolute", left: x - yw, top: y - PAD_V, width, height }}>
      <ScatterChart width={width} height={height} margin={{ top: PAD_V, right: padR, bottom: PAD_V, left: 0 }}>
        <CartesianGrid horizontalValues={yMinor} verticalValues={X_MINOR} stroke="#f1f1f1" strokeWidth={0.7} />
        <CartesianGrid horizontalValues={yTicks} verticalValues={X_TICKS} stroke="#e9e9e9" strokeWidth={1.1} />
        <XAxis
          type="number" dataKey="x" scale="log" domain={X_DOMAIN} allowDataOverflow
          ticks={X_TICKS} interval={0} hide={!showX} height={X_AXIS_H}
          tickFormatter={(v: number) => v.toFixed(1)}
          tick={tickStyle} tickLine={{ stroke: "#555" }} tickSize={3} tickMargin={1} axisLine={false}
        />
        <YAxis
          type="number" dataKey="y" domain={yDomain} allowDataOverflow
          ticks={yTicks} interval={0} hide={!showY} width={Y_AXIS_W}
          tick={tickStyle} tickLine={{ stroke: "#555" }} tickSize={4} tickMargin={2} axisLine={false}
        />
        <ReferenceLine y={50} stroke="#333" strokeWidth={1} strokeDasharray="4 3" />
        <ReferenceLine y={-50} stroke="#333" strokeWidth={1} strokeDasharray="4 3" />
        <ReferenceLine y={0} stroke="#333" strokeWidth={1} />
        {groups.map((g, k) => (
          <Scatter key={k} data={g} fill={CLASS_COLORS[k]} shape={dotShape(CLASS_COLORS[k])} isAnimationActive={false} />
        ))}
      </ScatterChart>
    </div>
  );
}

function Panel({ idx }: { idx: number }) {
  const lay = LAYOUT[idx];
  const els: React.ReactNode[] = [];
  const totalW = lay.w * 2 + H_GAP;
  PANEL_DATA[idx].forEach((pts, i) => {
    const col = i % 2;
    const row = Math.floor(i / 2);
    const fx = lay.left + col * (lay.w + H_GAP);
    const fy = lay.top + row * (STRIP_H + PLOT_H + V_GAP);
    const padR = row === 1 ? (col === 0 ? 12 : 6) : 0;
    els.push(
      <Facet key={"f" + i} pts={pts} yDomain={Y_DOMAINS[idx]} yTicks={Y_TICKS[idx]}
        showX={row === 1} showY={col === 0} x={fx} y={fy + STRIP_H} w={lay.w} padR={padR} />
    );
    els.push(
      <div key={"s" + i} style={{
        position: "absolute", left: fx, top: fy, width: lay.w, height: STRIP_H, boxSizing: "border-box",
        background: "#d9d9d9", border: `1px solid ${BORDER}`, borderBottom: "1px solid #3a3a3a",
        fontSize: 10, color: "#1a1a1a", textAlign: "center", lineHeight: `${STRIP_H - 2}px`,
      }}>{FACET_LABELS[i]}</div>
    );
    els.push(
      <div key={"b" + i} style={{
        position: "absolute", left: fx, top: fy + STRIP_H - 1, width: lay.w, height: PLOT_H + 1,
        boxSizing: "border-box", border: `1px solid ${BORDER}`, borderTop: "1px solid #3a3a3a", pointerEvents: "none",
      }} />
    );
  });
  const plotTop = lay.top + STRIP_H;
  const plotBottom = lay.top + 2 * (STRIP_H + PLOT_H) + V_GAP;
  return (
    <>
      <div style={{ position: "absolute", left: lay.left, top: lay.top - 21, fontSize: 12, color: "#000", whiteSpace: "nowrap", lineHeight: "14px" }}>
        {PANEL_TITLES[idx]}
      </div>
      {els}
      <div style={{
        position: "absolute", left: lay.ylab - 50, top: (plotTop + plotBottom) / 2 - 8, width: 100, height: 16,
        textAlign: "center", fontSize: 12.5, lineHeight: "16px", transform: "rotate(-90deg)", color: "#000",
      }}>%PEGFR</div>
      <div style={{
        position: "absolute", left: lay.left, top: plotBottom + 16, width: totalW, textAlign: "center",
        fontSize: 12.5, lineHeight: "16px", color: "#000",
      }}>PNA (days)</div>
    </>
  );
}

const LEGEND_DOT_X = [581, 633, 691, 755];

export default function App() {
  return (
    <div style={{ position: "absolute", left: 0, top: 0, width: 1298, height: 1226, background: "#fff", fontFamily: FONT, overflow: "hidden" }}>
      {PANEL_TITLES.map((_, i) => <Panel key={i} idx={i} />)}
      <div style={{ position: "absolute", left: 502, top: 1208, fontSize: 12.5, lineHeight: "16px", color: "#000" }}>|PEGFR%|</div>
      {CLASS_LABELS.map((lab, k) => (
        <React.Fragment key={k}>
          <div style={{ position: "absolute", left: LEGEND_DOT_X[k] - 2, top: 1214, width: 4.5, height: 4.5, borderRadius: "50%", background: CLASS_COLORS[k] }} />
          <div style={{ position: "absolute", left: LEGEND_DOT_X[k] + 14, top: 1209, fontSize: 10, lineHeight: "14px", color: "#333" }}>{lab}</div>
        </React.Fragment>
      ))}
    </div>
  );
}
